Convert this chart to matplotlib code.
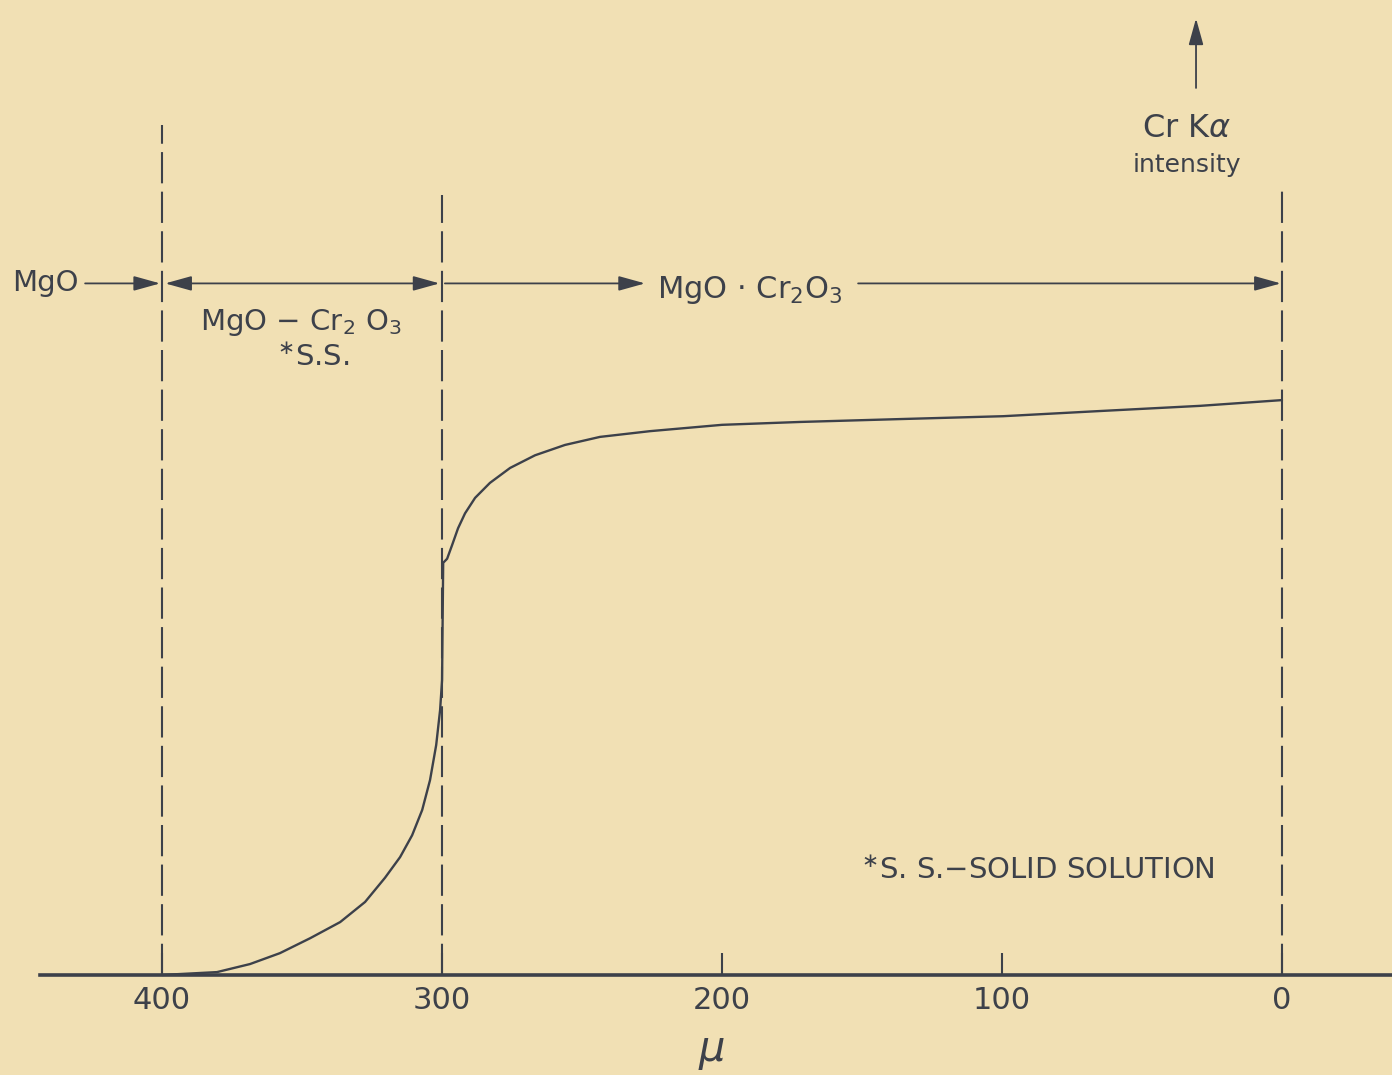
"""Cr K-alpha intensity profile across the MgO / MgO-Cr2O3 diffusion couple."""

import matplotlib

matplotlib.use("Agg")

import matplotlib.pyplot as plt

# Distance (micron) and Cr K-alpha intensity (arbitrary units)
distance = [400, 380.4, 368.6, 357.9, 347.1, 336.4, 327.5, 320.4, 315.0, 310.7,
            307.1, 304.3, 302.1, 300.7, 300.0, 299.8, 299.6, 298.2, 296.4, 294.3,
            291.8, 288.2, 282.9, 275.7, 266.8, 256.1, 243.6, 225.7, 200.0, 172.1,
            136.4, 99.6, 65.0, 29.3, 0.0]
intensity = [0.0, 0.5, 1.9, 3.8, 6.4, 9.2, 12.7, 16.9, 20.5, 24.3,
             28.7, 33.9, 40.0, 46.1, 51.3, 61.7, 71.7, 72.4, 74.8, 77.7,
             80.3, 83.0, 85.6, 88.2, 90.4, 92.2, 93.6, 94.6, 95.7, 96.2,
             96.7, 97.2, 98.1, 99.0, 100.0]

tick_positions = [400, 300, 200, 100, 0]
tick_labels = ["400", "300", "200", "100", "0"]

# phase boundaries (micron) and top of each dashed marker
boundaries = [400, 300, 0]
boundary_tops = [147.8, 135.7, 136.5]

PAPER = "#f1e0b4"
INK = "#3d414a"

plt.rcParams["font.family"] = ["DejaVu Sans"]
plt.rcParams["mathtext.fontset"] = "dejavusans"

fig = plt.figure(figsize=(13.92, 10.75), dpi=100)
fig.patch.set_facecolor(PAPER)
ax = fig.add_axes([0, 0, 1, 1])
ax.set_facecolor(PAPER)
ax.set_xlim(457.9, -39.3)
ax.set_ylim(-17.4, 169.6)

for s in ("top", "left", "right"):
    ax.spines[s].set_visible(False)
ax.spines["bottom"].set_position(("data", 0))
ax.spines["bottom"].set_bounds(443.6, -39.3)
ax.spines["bottom"].set_linewidth(2.6)
ax.spines["bottom"].set_color(INK)
ax.set_yticks([])
ax.set_xticks(tick_positions)
ax.set_xticklabels(tick_labels)
ax.tick_params(axis="x", direction="in", length=16, width=1.5, colors=INK,
               labelsize=22, pad=8)

# dashed phase boundaries
for xb, top in zip(boundaries, boundary_tops):
    ax.plot([xb, xb], [0, top], color=INK, lw=1.5, dashes=(15, 4))

# intensity trace
ax.plot(distance, intensity, color=INK, lw=1.7, solid_capstyle="round",
        solid_joinstyle="round")

# phase range arrows
arrow_y = 120.3
head = dict(color=INK, lw=1.3, mutation_scale=18, shrinkA=0, shrinkB=0)
ax.annotate("", xy=(400.7, arrow_y), xytext=(427.5, arrow_y),
            arrowprops=dict(arrowstyle="-|>,head_width=0.25,head_length=0.9", **head))
ax.annotate("", xy=(398.9, arrow_y), xytext=(300.9, arrow_y),
            arrowprops=dict(arrowstyle="<|-|>,head_width=0.25,head_length=0.9", **head))
ax.annotate("", xy=(299.0, arrow_y), xytext=(227.5, arrow_y),
            arrowprops=dict(arrowstyle="<|-,head_width=0.25,head_length=0.9", **head))
ax.annotate("", xy=(0.4, arrow_y), xytext=(151.4, arrow_y),
            arrowprops=dict(arrowstyle="-|>,head_width=0.25,head_length=0.9", **head))

ax.text(441.8, arrow_y, "MgO", fontsize=21, color=INK, ha="center", va="center")
ax.text(190.0, arrow_y - 1.2, r"MgO $\cdot$ Cr$_2$O$_3$", fontsize=22, color=INK,
        ha="center", va="center")
ax.text(350.4, 113.5, r"MgO $-$ Cr$_2$ O$_3$", fontsize=21, color=INK,
        ha="center", va="center")
ax.text(346.0, 107.3, r"$^{\ast}$S.S.", fontsize=21, color=INK,
        ha="center", va="center")

# y-axis direction arrow and label
ax.annotate("", xy=(30.7, 166.4), xytext=(30.7, 154.3),
            arrowprops=dict(arrowstyle="-|>,head_width=0.25,head_length=0.9", **head))
ax.text(33.9, 147.3, r"Cr K$\alpha$", fontsize=23, color=INK, ha="center", va="center")
ax.text(33.9, 140.9, "intensity", fontsize=18, color=INK, ha="center", va="center")

# footnote and axis unit
ax.text(150.5, 18.1, r"$^{\ast}$S. S.$-$SOLID SOLUTION", fontsize=21, color=INK,
        ha="left", va="center")
ax.text(203.6, -13.2, r"$\mu$", fontsize=30, color=INK, ha="center", va="center")

fig.savefig("out.png", dpi=100, facecolor=PAPER)
